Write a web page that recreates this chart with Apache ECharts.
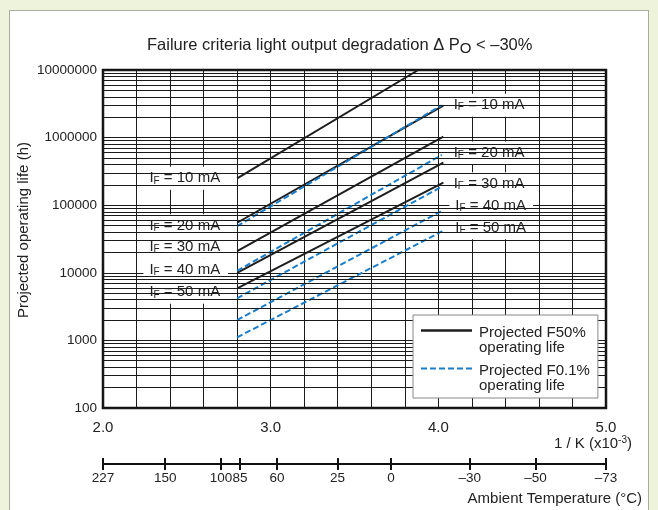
<!DOCTYPE html>
<html><head><meta charset="utf-8">
<script src="https://cdn.jsdelivr.net/npm/echarts@6/dist/echarts.min.js"></script>
<style>
html,body{margin:0;padding:0;background:#eef3dc;overflow:hidden;}
#panel{position:absolute;left:9px;top:10px;width:638px;height:520px;background:#fff;border:1px solid #a8ac9c;}
#chart{position:absolute;left:0;top:0;width:658px;height:510px;}
</style></head><body>
<div id="panel"></div><div id="chart"></div>
<script>
// ---------- data ----------
const currents = ['10', '20', '30', '40', '50'];          // IF (mA)
const startX = [2.8, 2.8, 2.8, 2.8, 2.8];                // 1/K x10^-3
const f50EndX = [3.88, 4.03, 4.03, 4.03, 4.03];
const f01EndX = [4.02, 4.02, 4.02, 4.03, 4.03];
const f50Start = [250000, 55000, 21000, 10000, 5900];     // hours, F50%
const f50End   = [10000000, 2960000, 1030000, 425000, 215000];
const f01Start = [49000, 10700, 4200, 2000, 1110];        // hours, F0.1%
const f01End   = [3010000, 553000, 188000, 85000, 42000];
const tempPos    = [2.0, 2.371, 2.704, 2.817, 3.038, 3.399, 3.717, 4.188, 4.579, 5.0];
const tempLabels = ['227', '150', '100', '85', '60', '25', '0', '–30', '–50', '–73'];

// ---------- style ----------
const FONT = '"Liberation Sans", Arial, Helvetica, sans-serif';
const TXT = '#222';
const BLACK = '#1e1e1e';
const BLUE = '#1b7dc8';
const leftDy = [0, 3, -4, -3, 4];
const rightDy = [0, -2, -3, -4, -3];

const minorVals = [];
for (let e = 2; e < 7; e++) for (let m = 2; m <= 9; m++) minorVals.push(m * Math.pow(10, e));

const labelRich = {
  i: {fontSize: 15, fontFamily: FONT, color: TXT},
  f: {fontSize: 10, fontFamily: FONT, color: TXT, verticalAlign: 'bottom', lineHeight: 13}
};
function ifText(c) { return '{i|I}{f|F}{i| = ' + c + ' mA}'; }

const series = [];
series.push({
  type: 'line', name: 'grid', data: [], z: 1, silent: true,
  markLine: {
    silent: true, symbol: ['none', 'none'], label: {show: false},
    lineStyle: {color: '#1a1a1a', width: 1, type: 'solid'},
    emphasis: {disabled: true},
    data: minorVals.map(v => ({yAxis: v}))
  }
});
currents.forEach((c, i) => {
  series.push({
    type: 'line', name: 'F50', z: 3, symbol: 'circle', symbolSize: 0, showSymbol: true,
    lineStyle: {color: BLACK, width: 2}, itemStyle: {color: BLACK, borderWidth: 0},
    emphasis: {disabled: true},
    data: [
      {value: [startX[i], f50Start[i]], label: {
        show: true, position: 'left', distance: 9, offset: [0, leftDy[i]],
        formatter: ifText(c), backgroundColor: '#fff', padding: [4, 8, 4, 6], rich: labelRich}},
      [f50EndX[i], f50End[i]]
    ]
  });
});
currents.forEach((c, i) => {
  series.push({
    type: 'line', name: 'F01', z: 4, symbol: 'circle', symbolSize: 0, showSymbol: true,
    lineStyle: {color: BLUE, width: 2, type: [6, 3]}, itemStyle: {color: BLUE, borderWidth: 0},
    emphasis: {disabled: true},
    data: [
      [startX[i], f01Start[i]],
      {value: [f01EndX[i], f01End[i]], label: {
        show: true, position: 'right', distance: 6, offset: [0, rightDy[i]],
        formatter: ifText(c), backgroundColor: '#fff', padding: [4, 7, 4, 6], rich: labelRich}}
    ]
  });
});

const solidIcon = 'path://M0,0L0.01,0L0.01,0.01Z M0,4.3L51,4.3L51,6.7L0,6.7Z M52.99,29.99L53,29.99L53,30Z';
let dashParts = 'path://M0,0L0.01,0L0.01,0.01Z ';
[0, 9, 18, 27, 36, 45].forEach(x => { dashParts += 'M' + x + ',4.5L' + (x + 6) + ',4.5L' + (x + 6) + ',6.5L' + x + ',6.5Z '; });
dashParts += 'M52.99,29.99L53,29.99L53,30Z';

function tempFmt(v) {
  const i = tempPos.findIndex(p => Math.abs(p - v) < 1e-6);
  return i >= 0 ? tempLabels[i] : '';
}

const chart = echarts.init(document.getElementById('chart'));
chart.setOption({
  animation: false,
  backgroundColor: 'transparent',
  textStyle: {fontFamily: FONT},
  title: [
    {text: 'Failure criteria light output degradation Δ P{s|O} < –30%', left: 147, top: 35, padding: 0,
     textStyle: {fontSize: 16.5, fontWeight: 'normal', color: TXT, fontFamily: FONT,
       rich: {s: {fontSize: 15, color: TXT, fontFamily: FONT, padding: [6, 0, 0, 0]}}}},
    {text: '1 / K (x10{sup|-3})', right: 26, top: 435, padding: 0,
     textStyle: {fontSize: 15, fontWeight: 'normal', color: TXT, fontFamily: FONT, lineHeight: 17,
       rich: {sup: {fontSize: 10, color: TXT, fontFamily: FONT, verticalAlign: 'top', lineHeight: 10}}}},
    {text: 'Ambient Temperature (°C)', right: 16, top: 491, padding: 0,
     textStyle: {fontSize: 15, fontWeight: 'normal', color: TXT, fontFamily: FONT}}
  ],
  grid: {left: 103, right: 52, top: 70, bottom: 102, show: true, borderColor: '#111', borderWidth: 2.5,
         backgroundColor: 'transparent', containLabel: false, outerBoundsMode: 'none'},
  legend: {
    orient: 'vertical', left: 413, top: 315, z: 10,
    data: [{name: 'F50', icon: solidIcon}, {name: 'F01', icon: dashParts}],
    itemWidth: 53, itemHeight: 30, itemGap: 8,
    padding: [10, 8, 5, 8],
    backgroundColor: '#fff', borderColor: '#888', borderWidth: 1,
    itemStyle: {borderWidth: 0},
    selectedMode: false,
    formatter: n => n === 'F50' ? 'Projected F50%\noperating life' : 'Projected F0.1%\noperating life',
    textStyle: {fontSize: 15, lineHeight: 15, color: TXT, fontFamily: FONT}
  },
  xAxis: [
    {type: 'value', min: 2, max: 5, interval: 0.2, position: 'bottom',
     axisLine: {show: false}, axisTick: {show: false},
     axisLabel: {margin: 12, fontSize: 15, color: TXT, fontFamily: FONT,
       formatter: v => Math.abs(v - Math.round(v)) < 1e-6 ? v.toFixed(1) : ''},
     splitLine: {show: true, lineStyle: {color: '#1a1a1a', width: 1}}},
    {type: 'value', min: 2, max: 5, position: 'bottom', offset: 56,
     axisLine: {show: true, lineStyle: {color: '#111', width: 2}},
     axisTick: {show: true, inside: true, length: 6, lineStyle: {color: '#111', width: 2}, customValues: tempPos},
     axisLabel: {show: true, customValues: tempPos, formatter: tempFmt, margin: 7, fontSize: 13.5, color: TXT, fontFamily: FONT},
     splitLine: {show: false}},
    {type: 'value', min: 2, max: 5, position: 'bottom', offset: 56,
     axisLine: {show: false},
     axisTick: {show: true, inside: false, length: 6, lineStyle: {color: '#111', width: 2}, customValues: tempPos},
     axisLabel: {show: false}, splitLine: {show: false}}
  ],
  yAxis: {
    type: 'log', logBase: 10, min: 100, max: 10000000,
    axisLine: {show: false}, axisTick: {show: false},
    axisLabel: {margin: 6, fontSize: 13.5, color: TXT, fontFamily: FONT, formatter: v => String(Math.round(v))},
    splitLine: {show: true, lineStyle: {color: '#1a1a1a', width: 1}},
    name: 'Projected operating life (h)', nameLocation: 'middle', nameGap: 72, nameMoveOverlap: false,
    nameTextStyle: {fontSize: 15, color: TXT, fontFamily: FONT, padding: [0, 0, 0, 18]}
  },
  series: series
});
</script>
</body></html>
